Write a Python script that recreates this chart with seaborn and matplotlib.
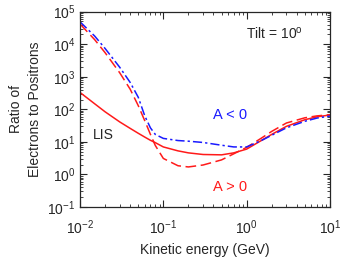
import numpy as np
import pandas as pd
import matplotlib
matplotlib.use("Agg")
import matplotlib.pyplot as plt
import seaborn as sns

# values (kinetic energy in GeV)
energy = [0.01, 0.015, 0.02, 0.03, 0.04, 0.05, 0.06, 0.07, 0.08, 0.1, 0.15,
          0.2, 0.3, 0.5, 0.7, 1.0, 1.5, 2.0, 3.0, 5.0, 7.0, 10.0]
ratio_lis = [330, 148, 84, 41, 26, 18.4, 14, 11.2, 9.5, 7.0, 5.3,
             4.6, 4.1, 4.0, 4.6, 6.0, 11, 17, 30, 48, 59, 67]
ratio_a_pos = [42000, 13800, 5500, 1320, 415, 130, 44, 17, 7.8, 3.1, 1.85,
               1.7, 1.95, 2.8, 4.3, 6.8, 13, 21, 38, 55, 63, 68]
ratio_a_neg = [49000, 17800, 7400, 1950, 670, 235, 62, 27, 17, 12.8, 11,
               10.5, 9.6, 7.9, 7.0, 7.0, 11, 16, 27, 43, 54, 62]

sns.set_style("ticks")
plt.rcParams["font.family"] = ["Liberation Sans", "DejaVu Sans"]
plt.rcParams["mathtext.default"] = "regular"
plt.rcParams["font.size"] = 10

df = pd.DataFrame({"energy": energy, "LIS": ratio_lis,
                   "A > 0": ratio_a_pos, "A < 0": ratio_a_neg})

red = "#ff1a1a"
blue = "#1a1aff"

fig = plt.figure(figsize=(3.51, 2.72), dpi=100)
ax = fig.add_axes([0.228, 0.239, 0.712, 0.718])

sns.lineplot(data=df, x="energy", y="LIS", ax=ax, color=red, lw=1.1)
sns.lineplot(data=df, x="energy", y="A > 0", ax=ax, color=red, lw=1.1,
             linestyle=(0, (7, 3)))
sns.lineplot(data=df, x="energy", y="A < 0", ax=ax, color=blue, lw=1.1,
             linestyle=(0, (6, 2, 1.5, 2)))

ax.set_xscale("log")
ax.set_yscale("log")
ax.set_xlim(0.01, 10)
ax.set_ylim(0.1, 1e5)
ax.yaxis.set_major_locator(matplotlib.ticker.LogLocator(base=10, numticks=10))
ax.yaxis.set_minor_locator(matplotlib.ticker.LogLocator(base=10, subs=np.arange(2, 10), numticks=20))
ax.tick_params(which="both", direction="in", top=True, right=True, labelsize=10)
ax.tick_params(which="major", length=5, width=0.8)
ax.tick_params(which="minor", length=2.5, width=0.6)
ax.tick_params(axis="x", which="major", pad=8)
for s in ax.spines.values():
    s.set_linewidth(0.9)

ax.set_xlabel("Kinetic energy (GeV)", fontsize=10)
ax.set_ylabel("Ratio of\nElectrons to Positrons", fontsize=10, linespacing=1.45)
ax.xaxis.set_label_coords(0.5, -0.185)
ax.yaxis.set_label_coords(-0.152, 0.5)

ax.text(0.89, 0.89, "Tilt = 10$^o$", transform=ax.transAxes, ha="right",
        va="center", fontsize=10)
ax.text(0.092, 0.37, "LIS", transform=ax.transAxes, ha="center", va="center", fontsize=10)
ax.text(0.6, 0.47, "A < 0", transform=ax.transAxes, ha="center", va="center",
        fontsize=10.5, color=blue)
ax.text(0.6, 0.10, "A > 0", transform=ax.transAxes, ha="center", va="center",
        fontsize=10.5, color=red)

fig.savefig("out.png", dpi=100)
